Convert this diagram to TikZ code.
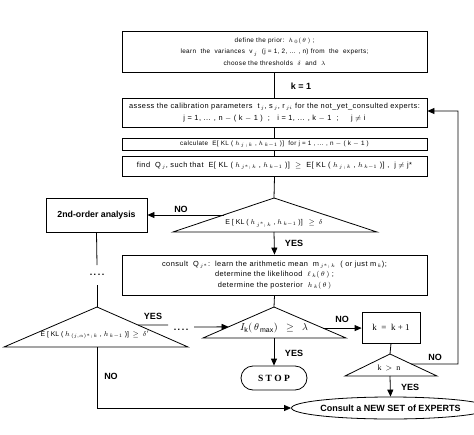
\documentclass[tikz,border=0pt]{standalone}
\usepackage{fontspec}
\setmainfont{Liberation Sans}
\newfontfamily\seriffam{Liberation Serif}
\newfontfamily\boxfont[LetterSpace=6]{Liberation Sans}
\usetikzlibrary{arrows.meta,shapes.geometric,calc}
\begin{document}
\begin{tikzpicture}[x=1pt,y=-1pt,
 box/.style={draw,line width=0.8pt,inner sep=0pt,font=\boxfont\fontsize{7.4}{11.5}\selectfont,align=center},
 txt/.style={font=\fontsize{7}{9}\selectfont,align=center,inner sep=0pt},
 lbl/.style={font=\bfseries\fontsize{9}{9}\selectfont,inner sep=0pt},
 dots/.style={font=\bfseries\fontsize{9}{9}\selectfont,inner sep=0pt},
 arr/.style={-{Triangle[length=7pt,width=6pt]},line width=0.8pt},
 ln/.style={line width=0.8pt},
 tri/.style={line width=0.8pt}]
\useasboundingbox (0,0) rectangle (474,434);

% boxes
\node[box,minimum width=305,minimum height=41,font=\boxfont\fontsize{6.4}{11.5}\selectfont] (b1) at (274.5,51.5)
 {define the prior:\ \ $h_{\,0}(\,\theta\,)$ ;\\
  learn\ \ the\ \ variances\ \ v$_{\,j}$\ \ (j = 1, 2, ... , n)\ from\ \ the\ \ experts;\\
  choose the thresholds\ \ $\delta$\ \ and\ \ $\lambda$};
\node[box,minimum width=305,minimum height=29] (b2) at (274.5,112.5)
 {assess the calibration parameters\ \ t$_{\,j}$, s$_{\,j}$, r$_{\,ji}$ for the not\_yet\_consulted experts:\\
  j = 1, ... , n $-$ ( k $-$ 1 )\ \ ;\ \ \ i = 1, ... , k $-$ 1\ \ ;\ \ \ \ \ j $\neq$ i};
\node[box,minimum width=305,minimum height=12,font=\boxfont\fontsize{6.3}{9}\selectfont] (b3) at (274.5,144)
 {calculate\ \ E[ KL ( $h_{\,j\,;\,k}$ ,\ $h_{\,k-1}$ )]\ \ for\ j = 1 , ... , n $-$ ( k $-$ 1 )};
\node[box,minimum width=305,minimum height=20] (b4) at (274.5,166)
 {find\ \ Q$_{\,j}$, such that\ \ E[ KL ( $h_{\,j^*;\,k}$ , $h_{\,k-1}$ )]\ \ $\geq$\ \ E[ KL ( $h_{\,j\,;\,k}$ , $h_{\,k-1}$ )] ,\ \ j $\neq$ j*};
\node[box,minimum width=101,minimum height=34,font=\bfseries\fontsize{8.8}{9}\selectfont] (b2nd) at (96.5,215) {2nd-order analysis};
\node[box,minimum width=305,minimum height=40] (b5) at (274.5,275)
 {consult\ \ Q$_{\,j^*}$:\ \ learn the arithmetic mean\ \ m$_{\,j^*;\,k}$\ \ ( or just m$_{\,k}$);\\[-1pt]
  determine the likelihood\ \ $\ell_{\,k}(\,\theta\,)$ ;\\[-1pt]
  determine the posterior\ \ $h_{\,k}(\,\theta\,)$};
\node[box,minimum width=58,minimum height=31,font=\seriffam\fontsize{9}{9}\selectfont] (bk) at (391,327.5) {k\ \ =\ \ k + 1};
\node[box,minimum width=66,minimum height=24,rounded corners=12pt,font=\seriffam\bfseries\fontsize{9.5}{9}\selectfont] (stop) at (274,378) {S T O P};
\node[draw,ellipse,line width=0.8pt,inner sep=0pt,minimum width=161,minimum height=22,font=\bfseries\fontsize{9}{9}\selectfont] (ell) at (390.5,408) {Consult a NEW SET of EXPERTS};

% triangles
\coordinate (t1a) at (274,198); \coordinate (t1l) at (173,232); \coordinate (t1r) at (377,232); \coordinate (t1b) at (274,232);
\draw[tri] (t1a) -- (t1l) -- (t1r) -- cycle;
\node[txt] (t1t) at (274,223.5) {E [ KL ( $h_{\,j^*;\,k}$ , $h_{\,k-1}$ )]\ \ \ $\geq$\ \ $\delta$};

\coordinate (t2a) at (274,307); \coordinate (t2l) at (203,338); \coordinate (t2r) at (346,338); \coordinate (t2b) at (274,338);
\draw[tri] (t2a) -- (t2l) -- (t2r) -- cycle;
\node[txt,font=\fontsize{10}{10}\selectfont] (t2t) at (274,328) {$I_{\mathrm{k}}(\,\theta_{\,\max})\ \ \geq\ \ \lambda$};

\coordinate (t3a) at (97,307); \coordinate (t3l) at (4,347); \coordinate (t3r) at (188,347); \coordinate (t3b) at (97,347);
\draw[tri] (t3a) -- (t3l) -- (t3r) -- cycle;
\node[txt,font=\fontsize{6.8}{9}\selectfont] (t3t) at (95,335) {E [ KL ( $h_{\,(j,\alpha)^*;\,k}$ , $h_{\,k-1}$ )]\ \ $\geq$\ \ $\delta'$};

\coordinate (t4a) at (390,354); \coordinate (t4l) at (345,376); \coordinate (t4r) at (437,376); \coordinate (t4b) at (390,376);
\draw[tri] (t4a) -- (t4l) -- (t4r) -- cycle;
\node[txt,font=\seriffam\fontsize{8}{9}\selectfont] (t4t) at (389,368) {k\ \ $>$\ \ n};

% connectors
\draw[ln] (b1.south) -- (b2.north);
\node[lbl] (k1) at (301,86) {k = 1};
\draw[ln] (b2.south) -- (b3.north);
\draw[ln] (b3.south) -- (b4.north);
\draw[ln] (b4.south) -- (t1a);

\coordinate (t1e) at ($(t1a)!0.5!(t1l)$);
\draw[arr] (t1e) -- (b2nd.east);
\node[lbl] (no1) at (181,209) {NO};
\draw[arr] (t1b) -- (b5.north);
\node[lbl] (yes1) at (294,243) {YES};

\coordinate (d1a) at (97,265); \coordinate (d1b) at (97,285);
\draw[ln] (b2nd.south) -- (d1a);
\node[dots] (dots1) at (97,275) {.\,.\,.\,.};
\draw[ln] (d1b) -- (t3a);

\draw[ln] (b5.south) -- (t2a);

\coordinate (t3e) at ($(t3a)!0.45!(t3r)$);
\coordinate (y3e) at (168,325);
\draw[ln] (t3e) -- (y3e);
\node[lbl] (yes3) at (153,316) {YES};
\node[dots] (dots2) at (181,330) {.\,.\,.\,.};
\coordinate (t2e) at ($(t2a)!0.64!(t2l)$);
\coordinate (y3s) at (194,327);
\draw[arr] (y3s) -- (t2e);

\coordinate (t2f) at ($(t2a)!0.68!(t2r)$);
\draw[arr] (t2f) -- (t2f -| bk.west);
\node[lbl] (no2) at (342,319) {NO};
\draw[arr] (t2b) -- (stop.north);
\node[lbl] (yes2) at (294,353) {YES};

\draw[ln] (bk.south) -- (t4a);
\coordinate (t4e) at ($(t4a)!0.45!(t4r)$);
\coordinate (c1) at (458,364);
\coordinate (c2) at (458,111);
\draw[arr] (t4e) -- (c1) -- (c2) -- (c2 -| b2.east);
\node[lbl] (no4) at (435,357) {NO};
\draw[arr] (t4b) -- (ell.north);
\node[lbl] (yes4) at (410,387) {YES};

\coordinate (c3) at (97,408);
\draw[arr] (t3b) -- (c3) -- (ell.west);
\node[lbl] (no3) at (111,376) {NO};
\end{tikzpicture}
\end{document}
